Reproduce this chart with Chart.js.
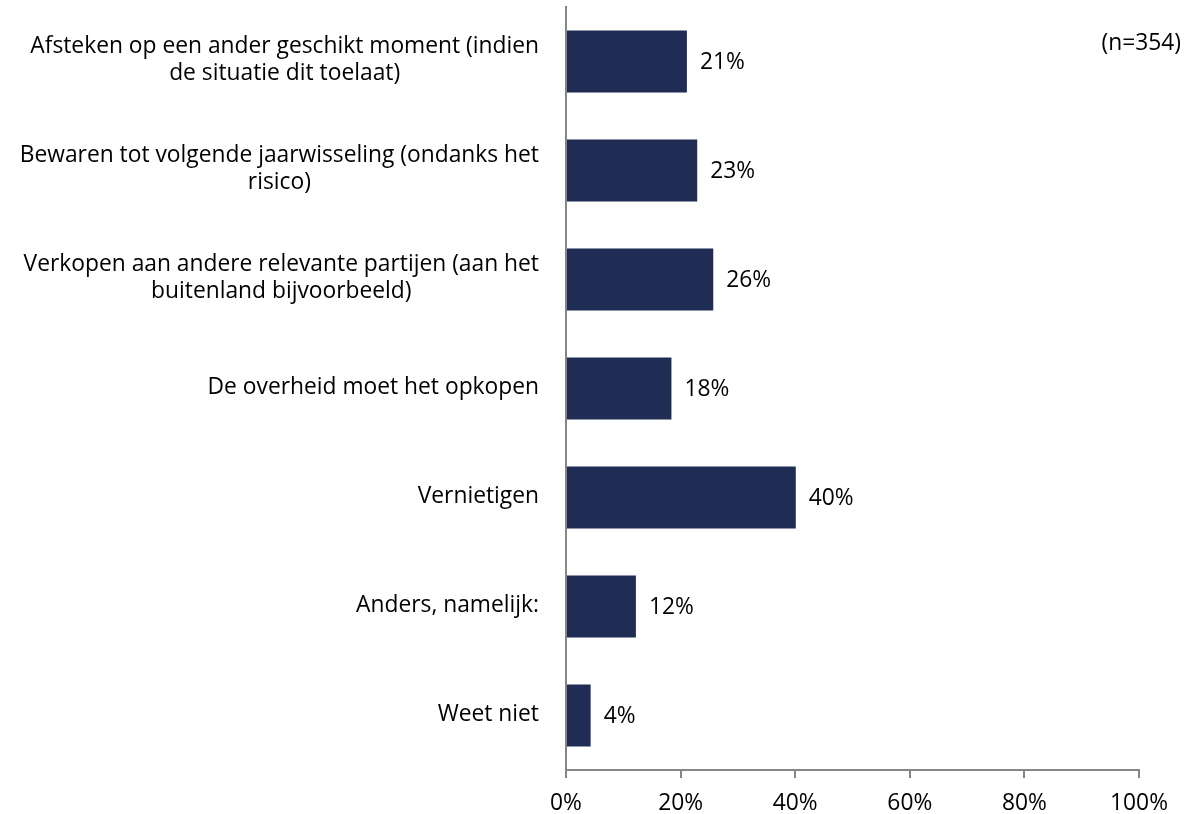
<!DOCTYPE html>
<html>
<head>
<meta charset="utf-8">
<script src="https://cdn.jsdelivr.net/npm/chart.js@4/dist/chart.umd.min.js"></script>
<style>
  html, body { margin: 0; padding: 0; background: #fff; }
  #wrap { width: 1189px; height: 814px; position: relative; }
</style>
</head>
<body>
<div id="wrap"><canvas id="antwoorden_chart"></canvas></div>
<script>
// categorieen (regels zoals in de grafiek)
const categorieen = [
    ['Afsteken op een ander geschikt moment (indien', 'de situatie dit toelaat)'],
    ['Bewaren tot volgende jaarwisseling (ondanks het', 'risico)'],
    ['Verkopen aan andere relevante partijen (aan het', 'buitenland bijvoorbeeld)'],
    ['De overheid moet het opkopen'],
    ['Vernietigen'],
    ['Anders, namelijk:'],
    ['Weet niet']
];
const percentages = [21.1, 22.9, 25.7, 18.4, 40.1, 12.2, 4.3];
const xTicks = [0, 20, 40, 60, 80, 100];
const aantal = 'n=354';

const lettertype = '"Open Sans", Lato, sans-serif';
const fontSize = 22.8;

// labels links van de as en percentages naast de balken
const tekstPlugin = {
    id: 'tekstPlugin',
    afterDraw(chart) {
        const ctx = chart.ctx;
        const area = chart.chartArea;
        const yScale = chart.scales.y;
        const meta = chart.getDatasetMeta(0);
        ctx.save();
        ctx.font = fontSize + 'px ' + lettertype;
        ctx.fillStyle = '#000';
        ctx.textBaseline = 'middle';

        categorieen.forEach((regels, i) => {
            const y = yScale.getPixelForValue(i) - 1;
            const breedte = Math.max(...regels.map(r => ctx.measureText(r).width));
            const cx = area.left - 27 - breedte / 2;
            const lh = 27;
            const start = y - (regels.length - 1) * lh / 2;
            ctx.textAlign = 'center';
            regels.forEach((r, j) => ctx.fillText(r, cx, start + j * lh));
        });

        meta.data.forEach((bar, i) => {
            ctx.textAlign = 'left';
            ctx.fillText(Math.round(percentages[i]) + '%', bar.x + 13, bar.y + 1);
        });

        ctx.textAlign = 'right';
        ctx.fillText('(' + aantal + ')', chart.width - 8, 44);
        ctx.restore();
    }
};

const ctx = document.getElementById('antwoorden_chart').getContext('2d');
new Chart(ctx, {
    type: 'bar',
    data: {
        labels: categorieen,
        datasets: [{
            data: percentages,
            backgroundColor: '#1f2d55',
            borderWidth: 0,
            categoryPercentage: 0.57,
            barPercentage: 1
        }]
    },
    options: {
        indexAxis: 'y',
        responsive: true,
        maintainAspectRatio: false,
        animation: false,
        layout: { padding: { top: 7, right: 50, left: 0, bottom: 0 } },
        plugins: {
            legend: { display: false },
            tooltip: { enabled: false }
        },
        scales: {
            x: {
                min: 0,
                max: 100,
                afterBuildTicks(scale) {
                    scale.ticks = xTicks.map(v => ({ value: v }));
                },
                afterFit(scale) { scale.height = 44; },
                ticks: {
                    callback: v => v + '%',
                    color: '#000',
                    padding: 12,
                    maxRotation: 0,
                    font: { family: lettertype, size: fontSize }
                },
                grid: {
                    display: true,
                    drawOnChartArea: false,
                    drawTicks: true,
                    tickLength: 8,
                    color: '#868686',
                    lineWidth: 2
                },
                border: { display: true, color: '#868686', width: 2 }
            },
            y: {
                afterFit(scale) { scale.width = 566; },
                ticks: { display: false },
                grid: { display: false },
                border: { display: true, color: '#868686', width: 2 }
            }
        }
    },
    plugins: [tekstPlugin]
});
</script>
</body>
</html>
